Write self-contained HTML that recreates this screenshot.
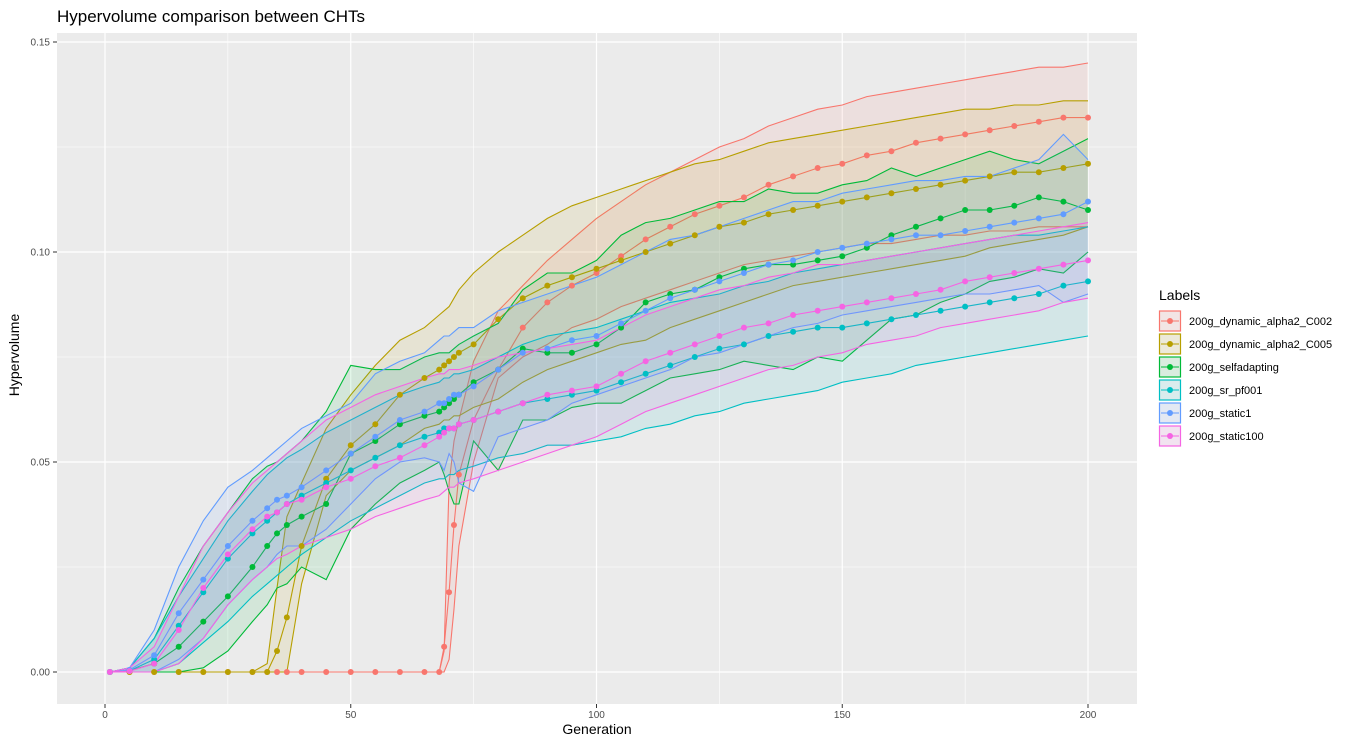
<!DOCTYPE html>
<html><head><meta charset="utf-8"><style>
body{margin:0;background:#fff;font-family:"Liberation Sans",sans-serif}
svg text{font-family:"Liberation Sans",sans-serif}
</style></head><body>
<svg id="chart" width="1366" height="744" xmlns="http://www.w3.org/2000/svg">
<text x="57" y="22" font-size="17" fill="#000">Hypervolume comparison between CHTs</text>
<rect x="57" y="33" width="1080" height="671" fill="#EBEBEB"/>
<g id="grid"></g><g id="series"></g><g id="axes"></g><g id="legend"></g>
<text x="597" y="734" font-size="14" text-anchor="middle">Generation</text>
<text transform="translate(19,355) rotate(-90)" font-size="14" text-anchor="middle">Hypervolume</text>
</svg>
<script>
const gens=[1,5,10,15,20,25,30,33,35,37,40,45,50,55,60,65,68,69,70,71,72,75,80,85,90,95,100,105,110,115,120,125,130,135,140,145,150,155,160,165,170,175,180,185,190,195,200];
const labels=["200g_dynamic_alpha2_C002","200g_dynamic_alpha2_C005","200g_selfadapting","200g_sr_pf001","200g_static1","200g_static100"];
const colors=["#F8766D","#B79F00","#00BA38","#00BFC4","#619CFF","#F564E3"];
const xTicks=[0,50,100,150,200];
const yTicks=[0,0.05,0.10,0.15];
const yTickLabels=["0.00","0.05","0.10","0.15"];
const z17=[0,0,0,0,0,0,0,0,0,0,0,0,0,0,0,0,0];
const meanC002=z17.concat([0.006,0.019,0.035,0.047,0.060,0.072,0.082,0.088,0.092,0.095,0.099,0.103,0.106,0.109,0.111,0.113,0.116,0.118,0.120,0.121,0.123,0.124,0.126,0.127,0.128,0.129,0.130,0.131,0.132,0.132]);
const upC002=z17.concat([0.005,0.045,0.055,0.06,0.074,0.086,0.092,0.098,0.103,0.108,0.112,0.116,0.119,0.122,0.125,0.127,0.130,0.132,0.134,0.135,0.137,0.138,0.139,0.140,0.141,0.142,0.143,0.144,0.144,0.145]);
const loC002=z17.concat([0,0.003,0.015,0.03,0.05,0.07,0.075,0.078,0.082,0.084,0.087,0.089,0.091,0.093,0.095,0.097,0.098,0.099,0.100,0.101,0.102,0.102,0.103,0.104,0.104,0.105,0.105,0.106,0.106,0.106]);
const meanC005=[0,0,0,0,0,0,0,0,0.005,0.013,0.030,0.046,0.054,0.059,0.066,0.070,0.072,0.073,0.074,0.075,0.076,0.078,0.084,0.089,0.092,0.094,0.096,0.098,0.100,0.102,0.104,0.106,0.107,0.109,0.110,0.111,0.112,0.113,0.114,0.115,0.116,0.117,0.118,0.119,0.119,0.120,0.121];
const upC005=[0,0,0,0,0,0,0,0.002,0.02,0.037,0.045,0.058,0.066,0.073,0.079,0.082,0.085,0.086,0.087,0.089,0.091,0.095,0.100,0.104,0.108,0.111,0.113,0.115,0.117,0.119,0.121,0.122,0.124,0.126,0.127,0.128,0.129,0.130,0.131,0.132,0.133,0.134,0.134,0.135,0.135,0.136,0.136];
const loC005=[0,0,0,0,0,0,0,0,0,0,0.021,0.042,0.048,0.051,0.054,0.058,0.059,0.060,0.060,0.061,0.061,0.063,0.065,0.069,0.072,0.074,0.076,0.078,0.079,0.082,0.084,0.086,0.088,0.090,0.092,0.093,0.094,0.095,0.096,0.097,0.098,0.099,0.101,0.102,0.103,0.104,0.106];
const meanSelf=[0,0.0003,0.002,0.006,0.012,0.018,0.025,0.030,0.033,0.035,0.037,0.040,0.052,0.055,0.059,0.061,0.062,0.063,0.064,0.065,0.066,0.069,0.072,0.077,0.076,0.076,0.078,0.082,0.088,0.090,0.091,0.094,0.096,0.097,0.097,0.098,0.099,0.101,0.104,0.106,0.108,0.110,0.110,0.111,0.113,0.112,0.110];
const upSelf=[0,0.001,0.008,0.02,0.03,0.038,0.046,0.049,0.050,0.052,0.055,0.062,0.073,0.072,0.072,0.075,0.076,0.076,0.076,0.077,0.078,0.080,0.083,0.091,0.095,0.095,0.098,0.104,0.107,0.108,0.110,0.112,0.112,0.115,0.114,0.114,0.116,0.117,0.120,0.118,0.120,0.122,0.124,0.122,0.121,0.124,0.127];
const loSelf=[0,0,0,0,0.001,0.005,0.012,0.016,0.02,0.021,0.025,0.022,0.034,0.04,0.045,0.048,0.05,0.047,0.043,0.04,0.040,0.055,0.048,0.060,0.060,0.063,0.064,0.064,0.067,0.07,0.071,0.072,0.074,0.073,0.072,0.075,0.074,0.079,0.084,0.085,0.088,0.090,0.093,0.094,0.096,0.095,0.100];
const meanSr=[0,0.0003,0.003,0.011,0.019,0.027,0.033,0.036,0.038,0.040,0.042,0.045,0.048,0.051,0.054,0.056,0.057,0.058,0.058,0.058,0.059,0.060,0.062,0.064,0.065,0.066,0.067,0.069,0.071,0.073,0.075,0.077,0.078,0.080,0.081,0.082,0.082,0.083,0.084,0.085,0.086,0.087,0.088,0.089,0.090,0.092,0.093];
const upSr=[0,0.001,0.008,0.018,0.027,0.036,0.043,0.047,0.049,0.051,0.053,0.057,0.060,0.063,0.066,0.068,0.069,0.070,0.070,0.071,0.071,0.072,0.075,0.078,0.080,0.081,0.082,0.084,0.086,0.088,0.089,0.090,0.092,0.093,0.095,0.096,0.097,0.098,0.099,0.100,0.101,0.102,0.103,0.104,0.104,0.105,0.106];
const loSr=[0,0,0,0.002,0.007,0.012,0.018,0.021,0.023,0.025,0.028,0.032,0.036,0.039,0.042,0.045,0.046,0.046,0.047,0.047,0.048,0.049,0.051,0.052,0.054,0.054,0.055,0.056,0.058,0.059,0.061,0.062,0.064,0.065,0.066,0.067,0.069,0.070,0.071,0.073,0.074,0.075,0.076,0.077,0.078,0.079,0.080];
const meanS1=[0,0.0005,0.004,0.014,0.022,0.030,0.036,0.039,0.041,0.042,0.044,0.048,0.052,0.056,0.060,0.062,0.064,0.064,0.065,0.066,0.066,0.068,0.072,0.076,0.077,0.079,0.080,0.083,0.086,0.089,0.091,0.093,0.095,0.097,0.098,0.100,0.101,0.102,0.103,0.104,0.104,0.105,0.106,0.107,0.108,0.109,0.112];
const upS1=[0,0.001,0.01,0.025,0.036,0.044,0.048,0.051,0.053,0.055,0.058,0.061,0.064,0.071,0.074,0.076,0.079,0.080,0.080,0.081,0.082,0.082,0.086,0.088,0.090,0.092,0.094,0.097,0.100,0.103,0.104,0.106,0.108,0.110,0.112,0.112,0.114,0.115,0.116,0.117,0.117,0.118,0.118,0.120,0.122,0.128,0.122];
const loS1=[0,0,0,0.003,0.008,0.016,0.022,0.025,0.028,0.030,0.030,0.034,0.040,0.046,0.050,0.051,0.05,0.048,0.052,0.050,0.045,0.043,0.056,0.058,0.060,0.064,0.066,0.068,0.070,0.072,0.075,0.076,0.078,0.080,0.082,0.083,0.085,0.086,0.087,0.088,0.089,0.090,0.090,0.091,0.092,0.088,0.090];
const meanS100=[0,0.0002,0.002,0.010,0.020,0.028,0.034,0.037,0.038,0.040,0.041,0.044,0.046,0.049,0.051,0.054,0.056,0.057,0.058,0.058,0.059,0.060,0.062,0.064,0.066,0.067,0.068,0.071,0.074,0.076,0.078,0.080,0.082,0.083,0.085,0.086,0.087,0.088,0.089,0.090,0.091,0.093,0.094,0.095,0.096,0.097,0.098];
const upS100=[0,0.001,0.006,0.018,0.03,0.038,0.045,0.048,0.050,0.052,0.055,0.060,0.063,0.066,0.068,0.070,0.071,0.071,0.072,0.072,0.072,0.073,0.075,0.076,0.077,0.078,0.079,0.082,0.085,0.087,0.089,0.091,0.092,0.094,0.095,0.097,0.097,0.098,0.099,0.100,0.101,0.102,0.103,0.104,0.105,0.106,0.107];
const loS100=[0,0,0,0.002,0.008,0.016,0.022,0.025,0.027,0.028,0.030,0.032,0.034,0.037,0.039,0.041,0.042,0.043,0.044,0.044,0.045,0.046,0.048,0.050,0.052,0.054,0.056,0.059,0.062,0.064,0.066,0.068,0.070,0.072,0.073,0.075,0.076,0.078,0.079,0.080,0.082,0.083,0.084,0.085,0.086,0.088,0.089];

const means=[meanC002,meanC005,meanSelf,meanSr,meanS1,meanS100];
const ups=[upC002,upC005,upSelf,upSr,upS1,upS100];
const los=[loC002,loC005,loSelf,loSr,loS1,loS100];
const NS="http://www.w3.org/2000/svg";
const X0=57,X1=1137,Y0=33,Y1=704;
const xs=g=>105+(g-0)*(1088-105)/200;
const ys=v=>672-v*(672-42)/0.15;
function mk(tag,attrs,parent){const e=document.createElementNS(NS,tag);for(const k in attrs)e.setAttribute(k,attrs[k]);parent.appendChild(e);return e;}
const grid=document.getElementById('grid');
[25,75,125,175].forEach(t=>{const l=mk('line',{x1:xs(t),x2:xs(t),y1:Y0,y2:Y1,stroke:'#fff','stroke-width':0.6},grid);

});
[0.025,0.075,0.125].forEach(t=>{const l=mk('line',{x1:X0,x2:X1,y1:ys(t),y2:ys(t),stroke:'#fff','stroke-width':0.6},grid);

});
const axes=document.getElementById('axes');
xTicks.forEach(t=>{const l=mk('line',{x1:xs(t),x2:xs(t),y1:Y0,y2:Y1,stroke:'#fff','stroke-width':1.2},grid);


const tk=mk('line',{x1:xs(t),x2:xs(t),y1:Y1,y2:Y1+4,stroke:'#333'},axes);


const tx=mk('text',{x:xs(t),y:Y1+14,'font-size':10,fill:'#4D4D4D','text-anchor':'middle'},axes);tx.textContent=t;

});
yTicks.forEach((t,i)=>{const l=mk('line',{x1:X0,x2:X1,y1:ys(t),y2:ys(t),stroke:'#fff','stroke-width':1.2},grid);


const tk=mk('line',{x1:X0-4,x2:X0,y1:ys(t),y2:ys(t),stroke:'#333'},axes);


const tx=mk('text',{x:X0-7,y:ys(t)+3.5,'font-size':10,fill:'#4D4D4D','text-anchor':'end'},axes);tx.textContent=yTickLabels[i];

});
const ser=document.getElementById('series');
const pathOf=arr=>arr.map((v,i)=>(i?'L':'M')+xs(gens[i]).toFixed(1)+','+ys(v).toFixed(1)).join('');
labels.forEach((lab,s)=>{
 const up=ups[s],lo=los[s];
 let d=pathOf(up);for(let i=gens.length-1;i>=0;i--)d+='L'+xs(gens[i]).toFixed(1)+','+ys(lo[i]).toFixed(1);d+='Z';
 const r=mk('path',{d:d,fill:colors[s],'fill-opacity':0.1,stroke:'none'},ser);
 
 
 const u=mk('path',{d:pathOf(up),fill:'none',stroke:colors[s],'stroke-width':1.1},ser);
 
 
 const lw=mk('path',{d:pathOf(lo),fill:'none',stroke:colors[s],'stroke-width':1.1},ser);
 
 
 const m=mk('path',{d:pathOf(means[s]),fill:'none',stroke:colors[s],'stroke-width':1.1},ser);
 
 
});
labels.forEach((lab,s)=>{means[s].forEach((v,i)=>{const c=mk('circle',{cx:xs(gens[i]),cy:ys(v),r:3,fill:colors[s]},ser);
 
 });});
const leg=document.getElementById('legend');
const lt=mk('text',{x:1159,y:300,'font-size':14},leg);lt.textContent='Labels';


labels.forEach((lab,s)=>{const cy=321+s*23;
 const g=mk('g',{},leg);
 
 
 mk('rect',{x:1159,y:cy-10.5,width:22,height:21,fill:'#F2F2F2'},g);
 mk('rect',{x:1159.5,y:cy-10,width:21,height:20,fill:colors[s],'fill-opacity':0.1,stroke:colors[s],'stroke-width':1.2},g);
 mk('line',{x1:1161,x2:1179,y1:cy,y2:cy,stroke:colors[s],'stroke-width':1.1},g);
 mk('circle',{cx:1170,cy:cy,r:3,fill:colors[s]},g);
 const t=mk('text',{x:1189,y:cy+4,'font-size':11},g);t.textContent=lab;});
</script>
</body></html>
